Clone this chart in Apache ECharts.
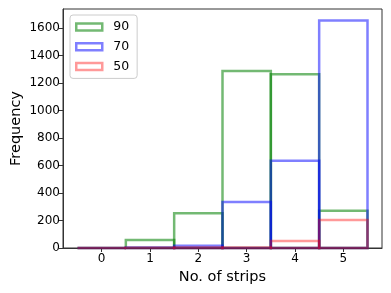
<!DOCTYPE html>
<html>
<head>
<meta charset="utf-8">
<script src="https://cdn.jsdelivr.net/npm/echarts@6/dist/echarts.min.js"></script>
<style>html,body{margin:0;padding:0;background:#fff}#c{width:391px;height:293px}</style>
</head>
<body>
<div id="c"></div>
<script>
const categories = [0, 1, 2, 3, 4, 5];
const s90 = [0, 58, 252, 1287, 1263, 271];
const s70 = [0, 4, 17, 335, 635, 1655];
const s50 = [0, 2, 3, 4, 50, 204];
const xTicks = [0, 1, 2, 3, 4, 5];
const yTicks = [0, 200, 400, 600, 800, 1000, 1200, 1400, 1600];

const seriesDefs = [
  { name: '90', values: s90, color: 'rgba(0,128,0,0.55)' },
  { name: '70', values: s70, color: 'rgba(0,0,255,0.5)' },
  { name: '50', values: s50, color: 'rgba(255,0,0,0.4)' }
];
const FONT = 'DejaVu Sans';
const chart = echarts.init(document.getElementById('c'), null, { renderer: 'canvas' });

function makeSeries(def) {
  return {
    name: def.name,
    type: 'custom',
    itemStyle: { color: def.color },
    data: categories.map((c, i) => [c, def.values[i]]),
    renderItem: function (params, api) {
      const x = api.value(0), v = api.value(1);
      const p0 = api.coord([x - 0.5, v]);
      const p1 = api.coord([x + 0.5, 0]);
      return {
        type: 'rect',
        shape: { x: p0[0], y: p0[1], width: p1[0] - p0[0], height: p1[1] - p0[1] },
        style: { fill: 'none', stroke: def.color, lineWidth: 2.5 }
      };
    }
  };
}

chart.setOption({
  animation: false,
  backgroundColor: '#fff',
  grid: { left: 63, right: 9, top: 9, bottom: 45, outerBoundsMode: 'none', containLabel: false, show: true, borderColor: '#333', borderWidth: 1, backgroundColor: 'transparent' },
  legend: {
    left: 70, top: 15, orient: 'vertical',
    padding: [5, 8, 5, 5],
    itemWidth: 26, itemHeight: 7, itemGap: 5.7,
    borderColor: '#ccc', borderWidth: 1, borderRadius: 3,
    backgroundColor: 'rgba(255,255,255,0.8)',
    textStyle: { fontFamily: FONT, fontSize: 12.5, color: '#000', lineHeight: 14, padding: [0, 0, 0, 6] },
    data: seriesDefs.map(d => ({ name: d.name, icon: 'rect', itemStyle: { color: '#fff', borderColor: d.color, borderWidth: 2.5 } }))
  },
  xAxis: {
    type: 'value', min: -0.8, max: 5.8,
    name: 'No. of strips', nameLocation: 'middle', nameGap: 22, nameMoveOverlap: false,
    nameTextStyle: { fontFamily: FONT, fontSize: 14.5, color: '#000' },
    axisLine: { show: true, onZero: false, lineStyle: { color: '#333', width: 1 } },
    axisTick: { show: true, length: 4, customValues: xTicks, lineStyle: { color: '#333' } },
    axisLabel: { customValues: xTicks, fontFamily: FONT, fontSize: 12, color: '#000', margin: 5, formatter: v => String(v) },
    splitLine: { show: false }
  },
  yAxis: {
    type: 'value', min: 0, max: 1738,
    name: 'Frequency', nameLocation: 'middle', nameGap: 39, nameRotate: 90, nameMoveOverlap: false,
    nameTextStyle: { fontFamily: FONT, fontSize: 14.5, color: '#000' },
    axisLine: { show: true, onZero: false, lineStyle: { color: '#333', width: 1 } },
    axisTick: { show: true, length: 4, customValues: yTicks, lineStyle: { color: '#333' } },
    axisLabel: { customValues: yTicks, fontFamily: FONT, fontSize: 12, color: '#000', margin: 3, formatter: v => String(v) },
    splitLine: { show: false }
  },
  series: seriesDefs.map(makeSeries)
});
</script>
</body>
</html>
